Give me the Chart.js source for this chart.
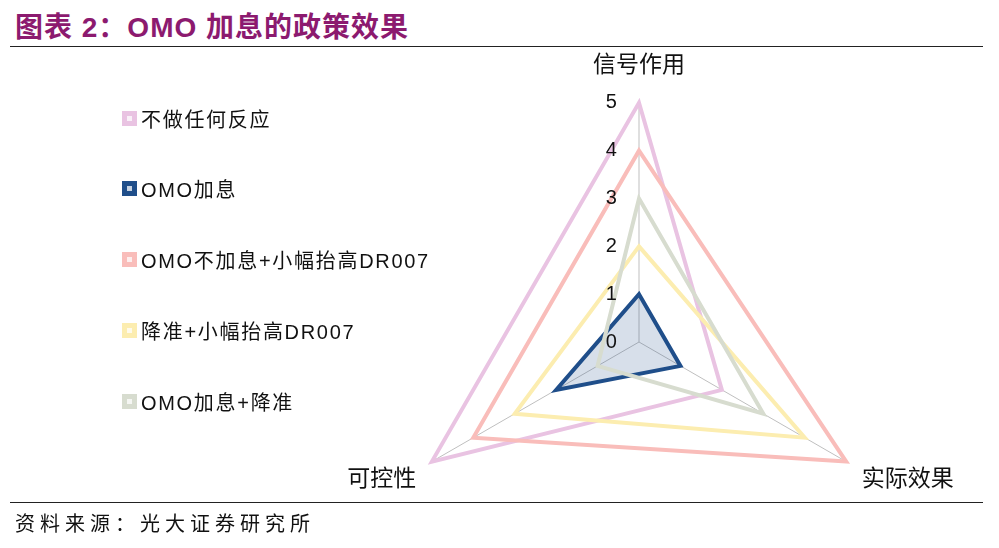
<!DOCTYPE html>
<html>
<head>
<meta charset="utf-8">
<script src="https://cdn.jsdelivr.net/npm/chart.js@4.4.1/dist/chart.umd.min.js"></script>
<style>
    html, body { margin: 0; padding: 0; width: 999px; height: 548px; overflow: hidden; background: #fff; }
    #title {
        position: absolute; left: 15px; top: 5px; white-space: nowrap;
        font: bold 28px "Liberation Sans", "Noto Sans CJK SC", sans-serif;
        color: #8C1A6F; letter-spacing: 1px;
    }
    .rule { position: absolute; left: 10px; width: 973px; height: 0; border-top: 1px solid #222; }
    #source {
        position: absolute; left: 15px; top: 508px; white-space: nowrap;
        font: 20px "Noto Sans CJK SC", sans-serif; letter-spacing: 5px; color: #111;
    }
    #wrap { position: absolute; left: 0; top: 0; width: 999px; height: 610px; }
    #legend { position: absolute; left: 122px; top: 0; z-index: 2; }
    .item {
        position: absolute; left: 0; height: 26px; display: flex; align-items: center; white-space: nowrap;
        font: 20px "Liberation Sans", "Noto Sans CJK SC", sans-serif; letter-spacing: 1.7px; color: #111;
    }
    .box { width: 15px; height: 15px; box-sizing: border-box; border: 5px solid; margin-right: 4px; }
</style>
</head>
<body>
<div id="title">图表 2：OMO 加息的政策效果</div>
<div class="rule" style="top:46px"></div>
<div id="wrap"><canvas id="radarChart"></canvas></div>
<div id="legend"></div>
<div class="rule" style="top:502px"></div>
<div id="source">资料来源：光大证券研究所</div>

<script>
// 三个维度
const axes = ['信号作用', '实际效果', '可控性'];
const tickValues = [0, 1, 2, 3, 4, 5];

const seriesNames = ['不做任何反应', 'OMO加息', 'OMO不加息+小幅抬高DR007', '降准+小幅抬高DR007', 'OMO加息+降准'];
const noReaction = [5, 2, 5];
const omoHike = [1, 1, 2];
const omoFlatDr007 = [4, 5, 4];
const rrrCutDr007 = [2, 4, 3];
const omoHikeRrrCut = [3, 3, 1];

const seriesColors = ['#E9C3E2', '#1F4E8A', '#F9BDBA', '#FCEDB0', '#D7DCCF'];
const legendY = [118, 188, 259, 330, 401];

const seriesValues = [noReaction, omoHike, omoFlatDr007, rrrCutDr007, omoHikeRrrCut];

const datasets = seriesNames.map((name, i) => ({
    label: name,
    data: seriesValues[i],
    borderColor: seriesColors[i],
    borderWidth: 4,
    borderJoinStyle: 'miter',
    backgroundColor: i === 1 ? 'rgba(31, 78, 138, 0.18)' : 'transparent',
    fill: i === 1,
    pointRadius: 0,
    pointHoverRadius: 0,
    order: seriesNames.length - i
}));

// 图例
const legendDiv = document.getElementById('legend');
seriesNames.forEach((name, i) => {
    const item = document.createElement('div');
    item.className = 'item';
    item.style.top = (legendY[i] - 13) + 'px';
    const box = document.createElement('span');
    box.className = 'box';
    box.style.borderColor = seriesColors[i];
    box.style.background = 'linear-gradient(rgba(255,255,255,.75),rgba(255,255,255,.75)) ' + seriesColors[i];
    item.appendChild(box);
    item.appendChild(document.createTextNode(name));
    legendDiv.appendChild(item);
});

const ctx = document.getElementById('radarChart').getContext('2d');
new Chart(ctx, {
    type: 'radar',
    data: { labels: axes, datasets: datasets },
    options: {
        responsive: true,
        maintainAspectRatio: false,
        animation: false,
        layout: { padding: { left: 279, top: 38, right: 0, bottom: 0 } },
        plugins: { legend: { display: false }, tooltip: { enabled: false } },
        elements: { line: { tension: 0 } },
        scales: {
            r: {
                // 略低于 0，使 0 刻度也显示
                min: -0.000001,
                max: tickValues[tickValues.length - 1],
                ticks: {
                    stepSize: 1,
                    z: 1,
                    font: { size: 20, family: '"Liberation Sans", Arial, sans-serif' },
                    color: '#111',
                    showLabelBackdrop: false,
                    backdropPadding: 0,
                    callback: v => Math.round(v) + ' '.repeat(10)
                },
                grid: { display: false },
                angleLines: { display: true, color: '#BFBFBF', lineWidth: 1 },
                pointLabels: {
                    font: { size: 23, family: '"Noto Sans CJK SC", sans-serif', lineHeight: 0.6 },
                    color: '#111',
                    padding: c => c.index === 0 ? 23 : 8
                }
            }
        }
    }
});
</script>
</body>
</html>
